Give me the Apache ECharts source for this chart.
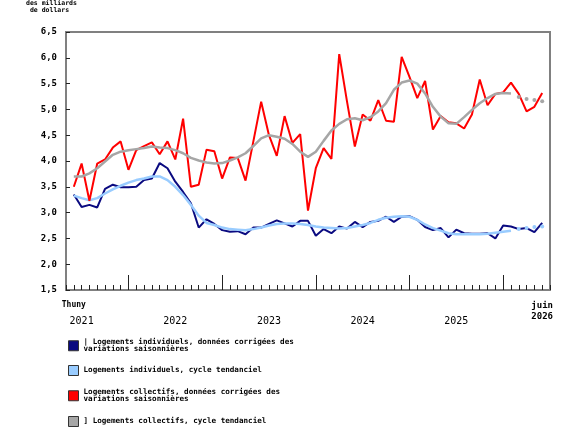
<!DOCTYPE html>
<html>
<head>
<meta charset="utf-8">
<script src="https://cdn.jsdelivr.net/npm/echarts@6/dist/echarts.min.js"></script>
<style>
html,body{margin:0;padding:0;background:#fff;}
#chart{width:580px;height:435px;}
</style>
</head>
<body>
<div id="chart"></div>
<script>
// axe des mois : mai 2021 .. juillet 2026 (les deux bouts restent vides)
var categories = [];
(function(){
	var y = 2021, m = 5;
	while (!(y === 2026 && m === 8)) {
		categories.push(y + '-' + (m < 10 ? '0' + m : m));
		m++;
		if (m > 12) { m = 1; y++; }
	}
})();

var firstLabel = 'Thuny';
var lastLabel = ['juin', '2026'];
var yearLabels = ['2021', '2022', '2023', '2024', '2025'];

var seriesNames = [
	'| Logements individuels, données corrigées des\nvariations saisonnières',
	'Logements individuels, cycle tendanciel',
	'Logements collectifs, données corrigées des\nvariations saisonnières',
	'] Logements collectifs, cycle tendanciel'
];

// juin 2021 .. juin 2026
var individuelsCVS = [3.35,3.11,3.15,3.10,3.46,3.54,3.49,3.49,3.50,3.63,3.66,3.96,3.86,3.60,3.40,3.18,2.71,2.87,2.78,2.66,
	2.63,2.64,2.58,2.71,2.71,2.78,2.85,2.79,2.73,2.84,2.84,2.55,2.68,2.60,2.73,2.69,2.82,2.72,2.82,2.84,
	2.92,2.82,2.92,2.93,2.86,2.72,2.66,2.70,2.52,2.67,2.60,2.59,2.59,2.60,2.50,2.75,2.73,2.68,2.70,2.62,2.80];
var individuelsTendance = [3.33,3.28,3.24,3.28,3.37,3.45,3.52,3.58,3.63,3.66,3.70,3.70,3.63,3.50,3.34,3.15,2.94,2.80,2.76,2.71,
	2.68,2.67,2.66,2.68,2.71,2.75,2.78,2.79,2.79,2.78,2.76,2.73,2.71,2.70,2.69,2.70,2.73,2.76,2.80,2.86,
	2.90,2.92,2.93,2.92,2.86,2.77,2.70,2.65,2.60,2.58,2.58,2.58,2.58,2.59,2.61,2.63,2.65];
var individuelsProjection = [2.68,2.70,2.72,2.73];

var collectifsCVS = [3.50,3.95,3.23,3.95,4.03,4.26,4.38,3.83,4.21,4.29,4.36,4.13,4.38,4.03,4.82,3.50,3.54,4.22,4.19,3.66,
	4.07,4.06,3.62,4.38,5.15,4.50,4.10,4.87,4.35,4.52,3.04,3.86,4.25,4.04,6.07,5.15,4.28,4.90,4.78,5.18,
	4.78,4.76,6.02,5.63,5.22,5.55,4.61,4.87,4.75,4.73,4.63,4.90,5.58,5.08,5.30,5.33,5.52,5.30,4.96,5.05,5.32];
var collectifsTendance = [3.70,3.70,3.76,3.86,3.99,4.12,4.18,4.21,4.23,4.25,4.28,4.26,4.25,4.21,4.15,4.06,4.01,3.97,3.95,3.96,
	4.01,4.07,4.15,4.29,4.44,4.50,4.47,4.43,4.33,4.18,4.08,4.18,4.39,4.59,4.72,4.81,4.83,4.79,4.85,4.96,
	5.12,5.38,5.52,5.56,5.50,5.31,5.05,4.86,4.73,4.72,4.85,4.99,5.12,5.22,5.30,5.32,5.31];
var collectifsProjection = [5.24,5.20,5.18,5.16];

// place une serie sur l'axe des mois
function pad(arr, start){
	var out = [];
	for (var i = 0; i < categories.length; i++) {
		var v = arr[i - start];
		out.push(v === undefined ? null : v);
	}
	return out;
}

var mono = 'DejaVu Sans Mono';
var myChart = echarts.init(document.getElementById('chart'));

function lineSerie(name, data, color, width){
	return {
		name: name,
		type: 'line',
		data: data,
		symbol: 'none',
		showSymbol: false,
		connectNulls: false,
		lineStyle: { color: color, width: width },
		itemStyle: { color: color },
		emphasis: { disabled: true }
	};
}
function dotSerie(name, data, color){
	return {
		name: name,
		type: 'line',
		data: data,
		symbol: 'circle',
		symbolSize: 4,
		showSymbol: true,
		lineStyle: { width: 0, opacity: 0 },
		itemStyle: { color: color },
		emphasis: { disabled: true }
	};
}
function legendAt(name, top){
	return {
		data: [name],
		left: 63,
		top: top,
		orient: 'vertical',
		icon: 'rect',
		itemWidth: 10,
		itemHeight: 10,
		selectedMode: false,
		itemStyle: { borderColor: '#333', borderWidth: 1 },
		textStyle: { fontFamily: mono, fontWeight: 'bold', fontSize: 7.6, color: '#000', lineHeight: 7.5 }
	};
}

var option = {
	animation: false,
	grid: { left: 66, right: 30, top: 32, bottom: 145, show: true, borderColor: '#808080', borderWidth: 2 },
	graphic: [{
		type: 'text',
		left: 26,
		top: 0,
		style: { text: 'des milliards\n de dollars', fill: '#000', font: 'bold 6.5px "DejaVu Sans Mono"', lineHeight: 7 }
	}],
	legend: [
		legendAt(seriesNames[0], 333),
		legendAt(seriesNames[1], 360),
		legendAt(seriesNames[2], 383),
		legendAt(seriesNames[3], 411)
	],
	xAxis: [{
		type: 'category',
		data: categories,
		boundaryGap: false,
		axisLine: { lineStyle: { color: '#808080', width: 2 } },
		axisTick: { inside: true, length: 5, interval: 0, lineStyle: { color: '#222', width: 1 } },
		axisLabel: {
			interval: 0,
			margin: 7,
			lineHeight: 15,
			color: '#000',
			formatter: function(value){
				var idx = categories.indexOf(value);
				if (idx === 1) return '{b|' + firstLabel + '}';
				if (idx === categories.length - 2) return '{e|' + lastLabel[0] + '}\n{e|' + lastLabel[1] + '}';
				if (value.slice(5) === '07') {
					var k = yearLabels.indexOf(value.slice(0, 4));
					if (k >= 0) return '\n{y|' + yearLabels[k] + '}';
				}
				return '';
			},
			rich: {
				b: { fontFamily: mono, fontWeight: 'bold', fontSize: 8, lineHeight: 15, color: '#000' },
				e: { fontFamily: mono, fontWeight: 'bold', fontSize: 9, lineHeight: 11, color: '#000', padding: [7, 0, 0, 0] },
				y: { fontFamily: mono, fontSize: 10, lineHeight: 15, color: '#000', padding: [3, 0, 0, 0] }
			}
		},
		splitLine: { show: false }
	}, {
		// grands traits de janvier
		type: 'category',
		data: categories,
		boundaryGap: false,
		position: 'bottom',
		axisLine: { show: false },
		axisLabel: { show: false },
		axisTick: {
			inside: true,
			length: 15,
			interval: function(i, v){ return v.slice(5) === '01'; },
			lineStyle: { color: '#222', width: 1 }
		},
		splitLine: { show: false }
	}],
	yAxis: {
		type: 'value',
		min: 1.5,
		max: 6.5,
		interval: 0.5,
		axisLine: { show: true, lineStyle: { color: '#808080', width: 2 } },
		axisTick: { show: true, inside: true, length: 4, lineStyle: { color: '#222' } },
		axisLabel: {
			margin: 9,
			color: '#000',
			fontFamily: mono,
			fontWeight: 'bold',
			fontSize: 9,
			formatter: function(v){ return v.toFixed(1).replace('.', ','); }
		},
		splitLine: { show: false }
	},
	series: [
		lineSerie(seriesNames[0], pad(individuelsCVS, 1), '#0a0a80', 2),
		lineSerie(seriesNames[1], pad(individuelsTendance, 1), '#99ccff', 2.5),
		lineSerie(seriesNames[2], pad(collectifsCVS, 1), '#ff0000', 2),
		lineSerie(seriesNames[3], pad(collectifsTendance, 1), '#a6a6a6', 2.5),
		dotSerie('proj-individuels', pad(individuelsProjection, 58), '#99ccff'),
		dotSerie('proj-collectifs', pad(collectifsProjection, 58), '#a6a6a6')
	]
};
myChart.setOption(option);
</script>
</body>
</html>
